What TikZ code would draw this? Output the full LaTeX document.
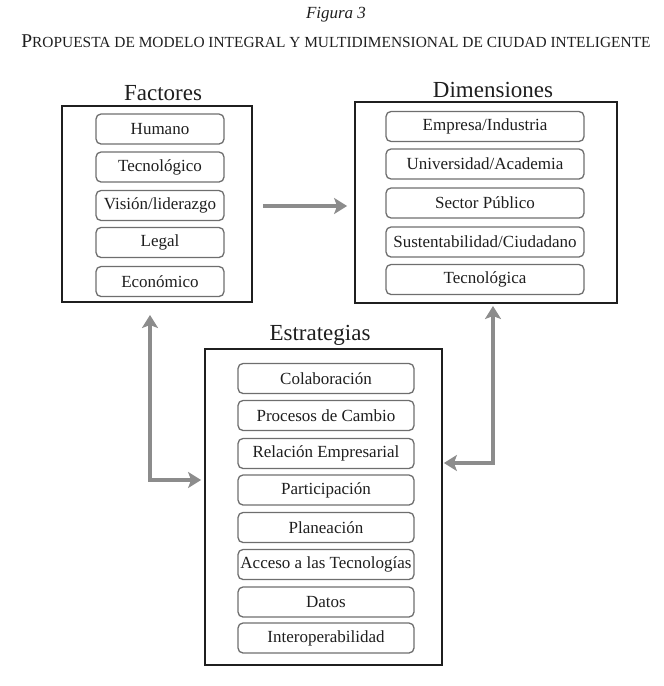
\documentclass[tikz,border=0pt]{standalone}
\usepackage{fontspec}
\setmainfont{Liberation Serif}
\usetikzlibrary{arrows.meta}
\definecolor{arrgray}{HTML}{8C8C8C}
\definecolor{boxgray}{HTML}{6E6E6E}
\definecolor{txt}{HTML}{1E1E1E}
\newcommand\fakesc[1]{{\fontsize{15.4}{18}\selectfont #1}}
\begin{document}
\begin{tikzpicture}[x=1pt,y=-1pt,
  outerbox/.style={draw=black!88, line width=1.8pt, rectangle, inner sep=0pt},
  item/.style={draw=boxgray, line width=1.3pt, rectangle, rounded corners=5pt,
    minimum height=30pt, inner sep=0pt, text=txt,
    font=\fontsize{17}{19}\selectfont},
  fitem/.style={item, minimum width=128pt},
  ditem/.style={item, minimum width=198pt},
  eitem/.style={item, minimum width=176pt},
  boxtitle/.style={text=txt, font=\fontsize{23}{26}\selectfont, inner sep=0pt},
  biarrow/.style={draw=arrgray, line width=3.6pt,
    {Stealth[length=13pt,width=16pt,inset=3pt]}-{Stealth[length=13pt,width=16pt,inset=3pt]}},
  onearrow/.style={draw=arrgray, line width=3.6pt,
    -{Stealth[length=13pt,width=16pt,inset=3pt]}}
]
\useasboundingbox (0,0) rectangle (664,686);

% Heading
\node[inner sep=0pt, text=txt, font=\fontsize{17}{20}\selectfont\itshape] (fig) at (336,15) {Figura 3};
\node[inner sep=0pt, text=txt, font=\fontsize{19.5}{22}\selectfont] (cap) at (336,41)
  {P\fakesc{ROPUESTA DE MODELO INTEGRAL Y MULTIDIMENSIONAL DE CIUDAD INTELIGENTE}};

% Factores
\node[outerbox, minimum width=190pt, minimum height=196pt] (fact) at (157,204) {};
\node[boxtitle] (tfact) at (163,93) {Factores};
\node[fitem] (f1) at (160,129) {Humano};
\node[fitem] (f2) at (160,167) {Tecnológico};
\node[fitem] (f3) at (160,205.5) {Visión/liderazgo};
\node[fitem] (f4) at (160,242.5) {Legal};
\node[fitem] (f5) at (160,281.5) {Económico};

% Dimensiones
\node[outerbox, minimum width=262pt, minimum height=201pt] (dim) at (486,202.5) {};
\node[boxtitle] (tdim) at (493,90) {Dimensiones};
\node[ditem] (d1) at (485,126.5) {Empresa/Industria};
\node[ditem] (d2) at (485,164) {Universidad/Academia};
\node[ditem] (d3) at (485,203) {Sector Público};
\node[ditem] (d4) at (485,242) {Sustentabilidad/Ciudadano};
\node[ditem] (d5) at (485,279.5) {Tecnológica};

% Estrategias
\node[outerbox, minimum width=237pt, minimum height=316pt] (est) at (323.5,507) {};
\node[boxtitle] (test) at (320,335) {Estrategias};
\node[eitem] (e1) at (326,378.5) {Colaboración};
\node[eitem] (e2) at (326,415.5) {Procesos de Cambio};
\node[eitem] (e3) at (326,453.5) {Relación Empresarial};
\node[eitem] (e4) at (326,490) {Participación};
\node[eitem] (e5) at (326,527.5) {Planeación};
\node[eitem] (e6) at (326,564.5) {Acceso a las Tecnologías};
\node[eitem] (e7) at (326,602) {Datos};
\node[eitem] (e8) at (326,638) {Interoperabilidad};

% Connectors
\coordinate (hA) at ([xshift=10pt]fact.east |- 0,206);
\coordinate (hB) at ([xshift=-7pt]dim.west |- 0,206);
\draw[onearrow] (hA) -- (hB);

\coordinate (lTop) at (150,315);
\coordinate (lBend) at (150,480);
\draw[biarrow] (lTop) -- (lBend) -- ([xshift=-3pt]est.west |- lBend);

\coordinate (rTop) at (493,306);
\coordinate (rBend) at (493,463);
\draw[biarrow] (rTop) -- (rBend) -- ([xshift=1pt]est.east |- rBend);
\end{tikzpicture}
\end{document}
